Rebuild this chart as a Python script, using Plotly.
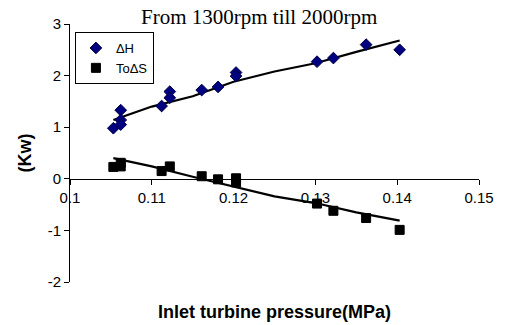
import plotly.graph_objects as go

# Data
p_dh = [0.1053, 0.1062, 0.1062, 0.1062, 0.1112, 0.1122, 0.1122, 0.1161, 0.1181, 0.1203, 0.1203, 0.1302, 0.1322, 0.1362, 0.1403]
dh = [0.98, 1.33, 1.14, 1.05, 1.41, 1.69, 1.57, 1.72, 1.78, 2.06, 1.99, 2.27, 2.34, 2.60, 2.50]

p_ts = [0.1053, 0.1062, 0.1062, 0.1112, 0.1122, 0.1161, 0.1181, 0.1203, 0.1203, 0.1302, 0.1322, 0.1362, 0.1403]
tds = [0.23, 0.24, 0.31, 0.15, 0.24, 0.05, -0.01, 0.01, -0.07, -0.48, -0.62, -0.76, -0.99]

# Trend lines
trend_x = [0.1053, 0.110, 0.115, 0.120, 0.125, 0.130, 0.135, 0.1403]
trend_dh = [1.14, 1.40, 1.60, 1.88, 2.08, 2.24, 2.46, 2.68]
trend_ts = [0.40, 0.24, 0.04, -0.15, -0.34, -0.47, -0.65, -0.81]

x_ticks = [0.1, 0.11, 0.12, 0.13, 0.14, 0.15]
x_labels = ["0.1", "0.11", "0.12", "0.13", "0.14", "0.15"]
y_ticks = [-2, -1, 0, 1, 2, 3]
y_labels = ["-2", "-1", "0", "1", "2", "3"]

fig = go.Figure()
fig.add_trace(go.Scatter(x=trend_x, y=trend_dh, mode="lines",
                         line=dict(color="black", width=2.2), showlegend=False))
fig.add_trace(go.Scatter(x=trend_x, y=trend_ts, mode="lines",
                         line=dict(color="black", width=2.2), showlegend=False))
fig.add_trace(go.Scatter(x=p_dh, y=dh, mode="markers", name="ΔH",
                         marker=dict(symbol="diamond", size=9, color="#000080",
                                     line=dict(color="#000040", width=1))))
fig.add_trace(go.Scatter(x=p_ts, y=tds, mode="markers", name="ToΔS",
                         marker=dict(symbol="square", size=9, color="black",
                                     line=dict(color="black", width=1))))

fig.update_layout(
    width=506, height=325,
    margin=dict(l=70, r=25, t=24, b=43),
    paper_bgcolor="white", plot_bgcolor="white",
    font=dict(family="Liberation Sans, Arial", size=15, color="black"),
    xaxis=dict(range=[0.1, 0.15], tickvals=x_ticks, ticktext=x_labels,
               showgrid=False, zeroline=False, showline=True, linecolor="black",
               linewidth=1, ticks="outside", ticklen=5, tickcolor="black",
               anchor="free", position=0.4),
    yaxis=dict(range=[-2, 3], tickvals=y_ticks, ticktext=y_labels, showgrid=False,
               zeroline=False, showline=True, linecolor="black", linewidth=1,
               ticks="outside", ticklen=5, tickcolor="black"),
    legend=dict(x=0.012, y=0.969, xanchor="left", yanchor="top",
                bordercolor="black", borderwidth=1, bgcolor="white",
                font=dict(size=13), tracegroupgap=0, itemwidth=30),
    showlegend=True,
)

fig.add_annotation(text="From 1300rpm till 2000rpm", xref="paper", yref="paper",
                   x=0.462, y=1.027, xanchor="center", yanchor="middle", showarrow=False,
                   font=dict(family="Liberation Serif, Times New Roman", size=21))
fig.add_annotation(text="<b>Inlet turbine pressure(MPa)</b>", xref="paper", yref="paper",
                   x=0.5, y=-0.116, xanchor="center", yanchor="middle", showarrow=False,
                   font=dict(size=18))
fig.add_annotation(text="<b>(Kw)</b>", xref="paper", yref="paper",
                   x=-0.109, y=0.5, xanchor="center", yanchor="middle", textangle=-90,
                   showarrow=False, font=dict(size=18))

fig.write_html("out.html")
